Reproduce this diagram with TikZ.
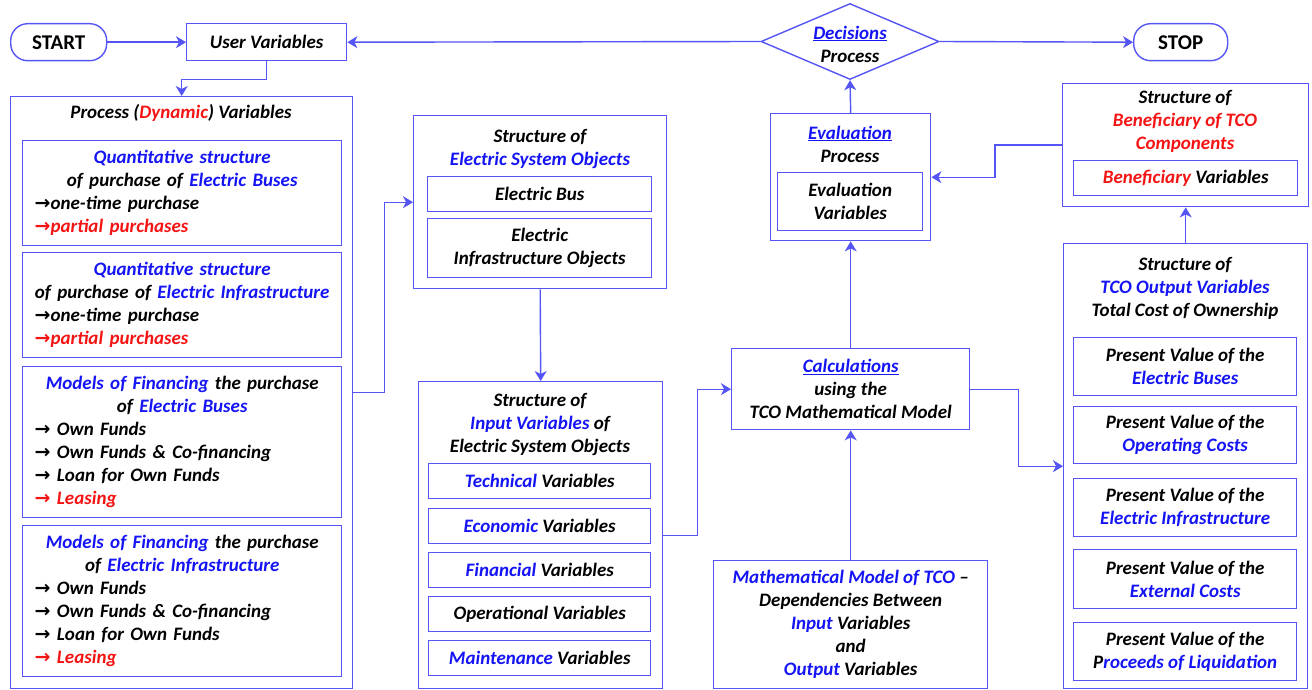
\documentclass[tikz,border=0pt]{standalone}
\usepackage{fontspec}
\setmainfont{Carlito}
\newfontfamily\arrowfont{DejaVu Sans}
\usetikzlibrary{arrows.meta, calc, shapes.geometric}

\definecolor{linecol}{RGB}{85,85,245}
\definecolor{txtblue}{RGB}{20,20,245}
\definecolor{txtred}{RGB}{245,20,20}
\newcommand{\bl}[1]{\textcolor{txtblue}{#1}}
\newcommand{\rd}[1]{\textcolor{txtred}{#1}}
\newcommand{\arr}{{\arrowfont\bfseries →}}

\begin{document}
\begin{tikzpicture}[x=1pt, y=-1pt,
  font=\fontsize{19}{23}\selectfont\bfseries\itshape,
  box/.style={draw=linecol, line width=1.4pt, inner sep=0pt, anchor=north west, align=center},
  term/.style={box, rounded corners=17pt, font=\fontsize{21}{24}\selectfont\bfseries},
  title/.style={inner sep=0pt, align=center},
  listbox/.style={box, align=left, text width=301, inner xsep=9},
  flow/.style={draw=linecol, line width=1.4pt, -{Stealth[length=10pt, width=12pt, inset=3pt]}}]
\useasboundingbox (0,0) rectangle (1312,690);

% top row
\node[term, minimum width=96, minimum height=37] (start) at (10,23) {START};
\node[box, minimum width=160, minimum height=37] (user) at (186,23) {User Variables};
\node[diamond, draw=linecol, line width=1.4pt, inner sep=0pt, minimum width=178, minimum height=76] (dec) at (850,41.5) {};
\node[title] (dectext) at (850,44) {\bl{\underline{Decisions}}\\Process};
\node[term, minimum width=94, minimum height=37] (stop) at (1133,23) {STOP};

% process variables
\node[box, minimum width=342, minimum height=592] (proc) at (10,96) {};
\node[title] (proctitle) at (181,113) {Process (\rd{Dynamic}) Variables};
\node[listbox, minimum height=105] (pbus) at (22,140) {{\centering \bl{Quantitative structure}\\ of purchase of \bl{Electric Buses}\par}
  \hspace*{3pt}\arr one-time purchase\\ \rd{\hspace*{3pt}\arr partial purchases}};
\node[listbox, minimum height=105] (pinf) at (22,252) {{\centering \bl{Quantitative structure}\\ of purchase of \bl{Electric Infrastructure}\par}
  \hspace*{3pt}\arr one-time purchase\\ \rd{\hspace*{3pt}\arr partial purchases}};
\node[listbox, minimum height=151] (fbus) at (22,366) {{\centering \bl{Models of Financing} the purchase\\ of \bl{Electric Buses}\par}
  \hspace*{3pt}\arr{} Own Funds\\ \hspace*{3pt}\arr{} Own Funds \& Co-financing\\ \hspace*{3pt}\arr{} Loan for Own Funds\\ \rd{\hspace*{3pt}\arr{} Leasing}};
\node[listbox, minimum height=151] (finf) at (22,525) {{\centering \bl{Models of Financing} the purchase\\ of \bl{Electric Infrastructure}\par}
  \hspace*{3pt}\arr{} Own Funds\\ \hspace*{3pt}\arr{} Own Funds \& Co-financing\\ \hspace*{3pt}\arr{} Loan for Own Funds\\ \rd{\hspace*{3pt}\arr{} Leasing}};

% system objects
\node[box, minimum width=253, minimum height=173] (eso) at (413,115) {};
\node[title] (esotitle) at (540,149) {Structure of\\ \bl{Electric System Objects}};
\node[box, minimum width=224, minimum height=35] (ebus) at (427,176) {Electric Bus};
\node[box, minimum width=224, minimum height=59] (einf) at (427,218) {Electric\\ Infrastructure Objects};

% input variables
\node[box, minimum width=244, minimum height=307] (inp) at (418,381) {};
\node[title] (inptitle) at (540,425) {Structure of\\ \bl{Input Variables} of\\ Electric System Objects};
\node[box, minimum width=222, minimum height=35] (tech) at (428,463) {\bl{Technical} Variables};
\node[box, minimum width=222, minimum height=35] (econ) at (428,508) {\bl{Economic} Variables};
\node[box, minimum width=222, minimum height=35] (fin) at (428,552) {\bl{Financial} Variables};
\node[box, minimum width=222, minimum height=35] (oper) at (428,596) {Operational Variables};
\node[box, minimum width=222, minimum height=35] (maint) at (428,640) {\bl{Maintenance} Variables};

% evaluation and calculations
\node[box, minimum width=160, minimum height=127] (eval) at (770,113) {};
\node[title] (evaltitle) at (850,144) {\bl{\underline{Evaluation}}\\ Process};
\node[box, minimum width=145, minimum height=58] (evar) at (777,172) {Evaluation\\ Variables};
\node[box, minimum width=238, minimum height=81] (calc) at (731,348) {\bl{\underline{Calculations}}\\ using the\\ TCO Mathematical Model};
\node[box, minimum width=274, minimum height=128] (math) at (713,560) {\bl{Mathematical Model of TCO} --\\ Dependencies Between\\ \bl{Input} Variables\\ and\\ \bl{Output} Variables};

% beneficiary and output
\node[box, minimum width=246, minimum height=123] (ben) at (1062,83) {};
\node[title] (bentitle) at (1185,121) {Structure of\\ \rd{Beneficiary of TCO}\\ \rd{Components}};
\node[box, minimum width=224, minimum height=35] (bvar) at (1073,160) {\rd{Beneficiary} Variables};
\node[box, minimum width=244, minimum height=445] (tco) at (1063,243) {};
\node[title] (tcotitle) at (1185,288) {Structure of\\ \bl{TCO Output Variables}\\ Total Cost of Ownership};
\node[box, minimum width=223, minimum height=58] (pvbus) at (1073,337) {Present Value of the\\ \bl{Electric Buses}};
\node[box, minimum width=223, minimum height=57] (pvoper) at (1073,406) {Present Value of the\\ \bl{Operating Costs}};
\node[box, minimum width=223, minimum height=58] (pvinf) at (1073,478) {Present Value of the\\ \bl{Electric Infrastructure}};
\node[box, minimum width=223, minimum height=59] (pvext) at (1073,549) {Present Value of the\\ \bl{External Costs}};
\node[box, minimum width=223, minimum height=58] (pvliq) at (1073,622) {Present Value of the\\ P\bl{roceeds of Liquidation}};

% connectors
\draw[flow] (start.east) -- (user.west);
\draw[flow] (dec.west) -- (user.east);
\draw[flow] (dec.east) -- (stop.west);
\draw[flow] (user.south) -- ++(0,18) -| (proc.north);
\draw[flow] (proc.east) -- ++(31,0) |- (eso.west);
\draw[flow] (eso.south) -- (inp.north);
\draw[flow] (inp.east) -- ++(34,0) |- (calc.west);
\draw[flow] (math.north) -- (calc.south);
\draw[flow] (calc.north) -- (eval.south);
\draw[flow] (eval.north) -- (dec.south);
\draw[flow] (calc.east) -- ++(48,0) |- (tco.west);
\draw[flow] (tco.north) -- (ben.south);
\draw[flow] (ben.west) -- ++(-67,0) |- (eval.east);
\end{tikzpicture}
\end{document}
